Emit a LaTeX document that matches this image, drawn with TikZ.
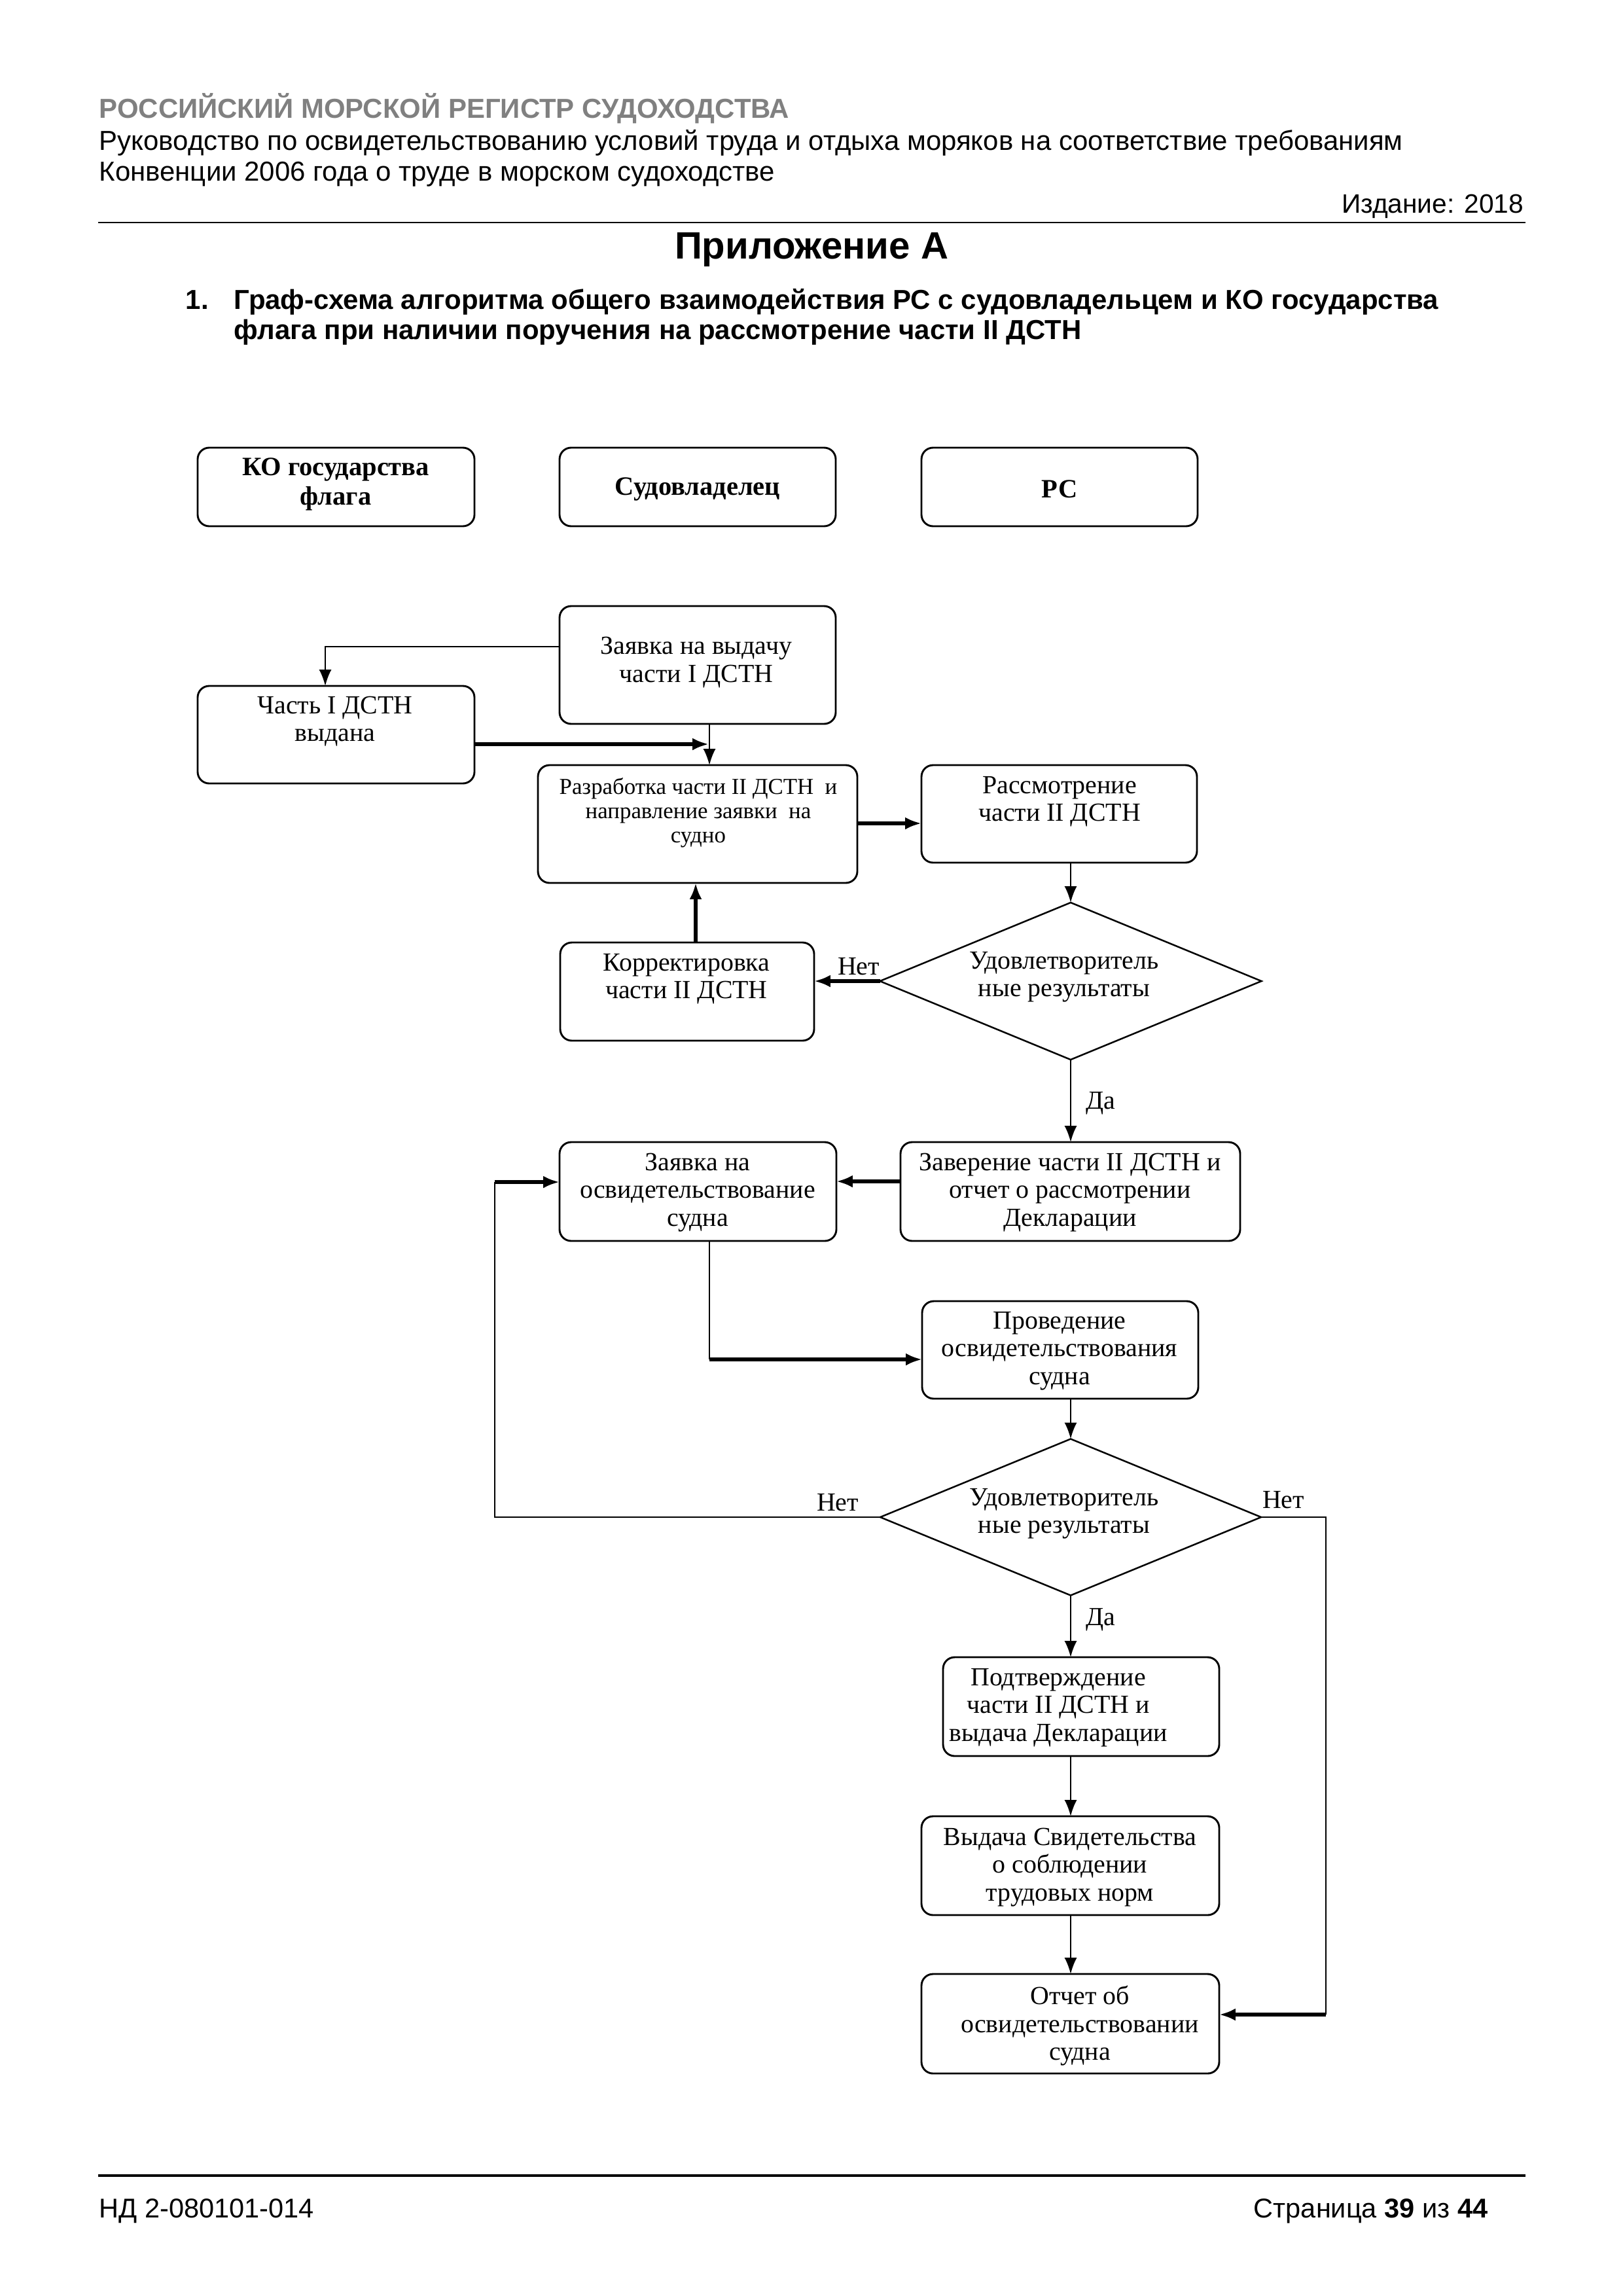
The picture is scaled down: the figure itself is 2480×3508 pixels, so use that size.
\documentclass[tikz,border=0pt]{standalone}
\usepackage{fontspec}
\setmainfont{Liberation Serif}
\newfontfamily\arial{Liberation Sans}
\usetikzlibrary{arrows.meta,shapes.geometric,fit}
\newdimen\pxu \pxu=0.0846774mm
\begin{document}
\begin{tikzpicture}[x=0.0846774mm, y=-0.0846774mm,
  box/.style={draw, line width=0.7pt, rounded corners=1.5mm, inner sep=0pt, outer sep=0pt},
  dia/.style={draw, line width=0.6pt, shape=diamond, inner sep=0pt, outer sep=0pt},
  txt/.style={align=center, font=\fontsize{9.6}{10.2}\selectfont, inner sep=0pt},
  btxt/.style={align=center, font=\fontsize{9.75}{10.8}\selectfont\bfseries, inner sep=0pt},
  stxt/.style={align=center, font=\fontsize{8.4}{8.9}\selectfont, inner sep=0pt},
  lbl/.style={font=\fontsize{9.6}{10.2}\selectfont, inner sep=0pt},
  hd/.style={inner sep=0pt, font=\arial\fontsize{10.1}{12}\selectfont},
  hdb/.style={inner sep=0pt, font=\arial\fontsize{10.1}{12}\selectfont\bfseries},
  ft/.style={inner sep=0pt, font=\arial\fontsize{10}{12}\selectfont},
  tarr/.style={line width=0.6pt, -{Latex[length=2.1mm,width=1.6mm]}},
  karr/.style={line width=1.3pt, -{Latex[length=2.1mm,width=1.6mm]}},
  tline/.style={line width=0.6pt},
]
\useasboundingbox (0,0) rectangle (2480,3508);

% ---------- header ----------
\node[hdb, anchor=base west, text=black!50] (h1) at (151,180) {РОССИЙСКИЙ МОРСКОЙ РЕГИСТР СУДОХОДСТВА};
\node[hd, anchor=base west] (h2) at (151,229) {Руководство по освидетельствованию условий труда и отдыха моряков на соответствие требованиям};
\node[hd, anchor=base west] (h3) at (151,276) {Конвенции 2006 года о труде в морском судоходстве};
\node[hd, anchor=base east, font=\arial\fontsize{9.8}{12}\selectfont] (h4) at (2329,325) {Издание: 2018};
\draw[line width=0.6pt] (150,340) -- (2331,340);
\node[hdb, anchor=base, font=\arial\fontsize{14}{16}\selectfont\bfseries] (h5) at (1240,395) {Приложение А};
\node[hdb, anchor=base west] (t0) at (283,472) {1.};
\node[hdb, anchor=base west] (t1) at (357,472) {Граф-схема алгоритма общего взаимодействия РС с судовладельцем и КО государства};
\node[hdb, anchor=base west] (t2) at (357,518) {флага при наличии поручения на рассмотрение части II ДСТН};

% ---------- footer ----------
\draw[line width=1.1pt] (150,3324) -- (2331,3324);
\node[ft, anchor=base west] (f1) at (151,3388) {НД 2-080101-014};
\node[ft, anchor=base east] (f2) at (2274,3388) {Страница \textbf{39} из \textbf{44}};

% ---------- lanes ----------
\node[box, fit={(302,684) (725,804)}] (ko) {};
\node[box, fit={(855,684) (1277,804)}] (sv) {};
\node[box, fit={(1408,684) (1830,804)}] (rs) {};
\node[btxt] (kot) at (513,740) {КО государства\\флага};
\node[btxt] (svt) at (1066,747) {Судовладелец};
\node[btxt] (rst) at (1619,747) {РС};

% ---------- process boxes ----------
\node[box, fit={(855,926) (1277,1106)}] (zv) {};
\node[box, fit={(302,1048) (725,1197)}] (ch) {};
\node[box, fit={(822,1169) (1310,1349)}] (rz) {};
\node[box, fit={(1408,1169) (1829,1318)}] (rm) {};
\node[box, fit={(856,1440) (1244,1590)}] (kr) {};
\node[box, fit={(855,1745) (1278,1896)}] (zo) {};
\node[box, fit={(1376,1745) (1895,1896)}] (zr) {};
\node[box, fit={(1409,1988) (1831,2137)}] (pr) {};
\node[box, fit={(1441,2532) (1863,2683)}] (pd) {};
\node[box, fit={(1408,2775) (1863,2926)}] (vd) {};
\node[box, fit={(1408,3016) (1863,3168)}] (ot) {};
\node[dia, minimum width=583\pxu, minimum height=240\pxu] (d1) at (1636,1499) {};
\node[dia, minimum width=582\pxu, minimum height=239\pxu] (d2) at (1636,2318) {};

\node[txt] (zvt) at (1064,1012) {Заявка на выдачу\\части I ДСТН};
\node[txt] (cht) at (512,1102) {Часть I ДСТН\\выдана};
\node[stxt] (rzt) at (1067,1242) {Разработка части II ДСТН~ и\\направление заявки~ на\\судно};
\node[txt] (rmt) at (1619,1225) {Рассмотрение\\части II ДСТН};
\node[txt] (krt) at (1049,1496) {Корректировка\\части II ДСТН};
\node[txt] (d1t) at (1626,1493) {Удовлетворитель\\ные результаты};
\node[txt] (zot) at (1066,1822) {Заявка на\\освидетельствование\\судна};
\node[txt] (zrt) at (1635,1822) {Заверение части II ДСТН и\\отчет о рассмотрении\\Декларации};
\node[txt] (prt) at (1619,2064) {Проведение\\освидетельствования\\судна};
\node[txt] (d2t) at (1626,2313) {Удовлетворитель\\ные результаты};
\node[txt] (pdt) at (1617,2609) {Подтверждение\\части II ДСТН и\\выдача Декларации};
\node[txt] (vdt) at (1635,2853) {Выдача Свидетельства\\о соблюдении\\трудовых норм};
\node[txt] (ott) at (1650,3095) {Отчет об\\освидетельствовании\\судна};

% ---------- labels ----------
\node[lbl] (n1) at (1312,1477) {Нет};
\node[lbl] (y1) at (1682,1686) {Да};
\node[lbl] (n2) at (1280,2296) {Нет};
\node[lbl] (n3) at (1961,2292) {Нет};
\node[lbl] (y2) at (1682,2475) {Да};

% ---------- connectors ----------
\coordinate (c1) at (497,988);
\draw[tarr] (zv.west |- c1) -- (c1) -- (ch.north -| c1);
\draw[tarr] (zv.south -| 1084,0) -- (rz.north -| 1084,0);
\coordinate (m1) at (1083,1137);
\draw[karr] (ch.east |- m1) -- (m1);
\draw[karr] (rz.east |- 0,1258) -- (rm.west |- 0,1258);
\draw[tarr] (rm.south -| d1.north) -- (d1.north);
\draw[karr] (d1.west) -- (kr.east |- d1.west);
\draw[karr] (kr.north -| 1063,0) -- (rz.south -| 1063,0);
\draw[tarr] (d1.south) -- (zr.north -| d1.south);
\draw[karr] (zr.west |- 0,1805) -- (zo.east |- 0,1805);
\coordinate (c2) at (1084,2077);
\draw[tline] (zo.south -| c2) -- (c2);
\draw[karr] (c2) -- (pr.west |- c2);
\draw[tarr] (pr.south -| d2.north) -- (d2.north);
\coordinate (c3) at (756,2318);
\coordinate (c4) at (756,1806);
\draw[tline] (d2.west) -- (c3) -- (c4);
\draw[karr] (c4) -- (zo.west |- c4);
\coordinate (c5) at (2026,2318);
\coordinate (c6) at (2026,3078);
\draw[tline] (d2.east) -- (c5) -- (c6);
\draw[karr] (c6) -- (ot.east |- c6);
\draw[tarr] (d2.south) -- (pd.north -| d2.south);
\draw[tarr] (pd.south -| d2.south) -- (vd.north -| d2.south);
\draw[tarr] (vd.south -| d2.south) -- (ot.north -| d2.south);
\end{tikzpicture}
\end{document}
